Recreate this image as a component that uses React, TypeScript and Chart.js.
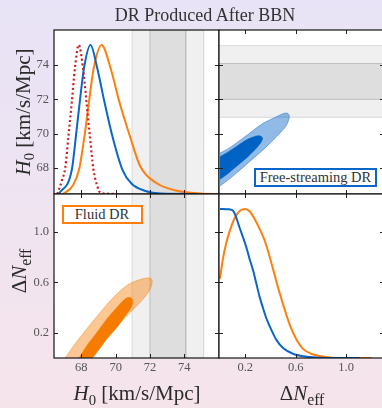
import React, { useEffect, useRef } from 'react';
import { Chart, registerables } from 'chart.js';

Chart.register(...registerables);

// ---------- axis ranges & ticks ----------
const H0_X_RANGE = [66.41, 76.02];
const H0_Y_RANGE = [66.5, 76.03];
const DNEFF_X_RANGE = [-0.008, 1.3];
const DNEFF_Y_RANGE = [0, 1.3];
const DENS_MAX = 1.1;

const H0_TICKS = [68, 70, 72, 74];
const H0_TICK_LABELS = ['68', '70', '72', '74'];
const DNEFF_TICKS = [0.2, 0.6, 1.0];
const DNEFF_TICK_LABELS = ['0.2', '0.6', '1.0'];

// SH0ES band (1 and 2 sigma)
const SH0ES_1SIG = [72.0, 74.08];
const SH0ES_2SIG = [70.96, 75.12];

// ---------- 1D H0 posteriors ----------
const LCDM_H0 = [66.6, 66.87, 67.07, 67.26, 67.45, 67.63, 67.85, 68.1, 68.3, 68.49, 68.7, 68.92, 69.13, 70.15];
const LCDM_H0_DENS = [0, 0.09, 0.181, 0.399, 0.62, 0.845, 1.0, 0.845, 0.62, 0.399, 0.171, 0.057, 0.007, 0];

const FS_H0 = [66.69, 67.45, 67.69, 67.92, 68.16, 68.54, 68.92, 69.33, 69.8, 70.39, 70.92, 71.74, 72.62, 74.67];
const FS_H0_DENS = [0, 0.164, 0.392, 0.627, 0.848, 1.0, 0.848, 0.627, 0.392, 0.164, 0.07, 0.02, 0.003, 0];

const FLUID_H0 = [66.93, 67.51, 67.87, 68.19, 68.45, 68.72, 69.18, 69.71, 70.21, 70.8, 71.44, 72.32, 73.5, 74.96, 76.08];
const FLUID_H0_DENS = [0, 0.057, 0.164, 0.392, 0.62, 0.842, 1.0, 0.842, 0.62, 0.399, 0.184, 0.077, 0.023, 0.003, 0];

// ---------- 1D ΔNeff posteriors ----------
const FS_DNEFF = [0, 0.074, 0.102, 0.128, 0.154, 0.182, 0.208, 0.234, 0.262, 0.288, 0.314, 0.342, 0.368, 0.408, 0.448, 0.502, 0.582, 0.688, 0.89, 1.11];
const FS_DNEFF_DENS = [1.0, 0.997, 0.989, 0.944, 0.877, 0.81, 0.744, 0.666, 0.588, 0.499, 0.41, 0.332, 0.265, 0.187, 0.12, 0.065, 0.027, 0.009, 0, 0];

const FLUID_DNEFF = [0, 0.021, 0.048, 0.074, 0.102, 0.128, 0.16, 0.2, 0.234, 0.274, 0.314, 0.354, 0.394, 0.434, 0.474, 0.514, 0.554, 0.608, 0.662, 0.728, 0.82, 0.95, 1.2];
const FLUID_DNEFF_DENS = [0.532, 0.655, 0.766, 0.844, 0.911, 0.955, 0.989, 1.0, 0.984, 0.933, 0.866, 0.788, 0.677, 0.554, 0.432, 0.321, 0.22, 0.12, 0.058, 0.027, 0.009, 0, 0];

// ---------- 2D contours: free-streaming (ΔNeff, H0) ----------
const FS_OUTER_DNEFF = [0, 0.048, 0.128, 0.234, 0.342, 0.448, 0.5, 0.535, 0.55, 0.528, 0.474, 0.368, 0.234, 0.128, 0.048, 0];
const FS_OUTER_H0 = [68.88, 69.06, 69.45, 70.03, 70.61, 70.99, 71.17, 71.19, 71.0, 70.51, 70.03, 69.25, 68.38, 67.7, 67.22, 66.97];
const FS_INNER_DNEFF = [0, 0.048, 0.128, 0.208, 0.288, 0.32, 0.337, 0.328, 0.288, 0.208, 0.128, 0.048, 0];
const FS_INNER_H0 = [68.67, 68.87, 69.25, 69.64, 69.87, 69.87, 69.75, 69.54, 69.16, 68.58, 68.09, 67.6, 67.35];

// ---------- 2D contours: fluid (H0, ΔNeff) ----------
const FLUID_OUTER_H0 = [67.06, 67.67, 68.35, 69.14, 69.92, 70.7, 71.38, 71.8, 72.07, 72.13, 72.07, 71.87, 71.28, 70.5, 69.72, 68.94, 68.55];
const FLUID_OUTER_DNEFF = [0, 0.117, 0.236, 0.367, 0.487, 0.579, 0.62, 0.633, 0.63, 0.606, 0.566, 0.513, 0.42, 0.315, 0.196, 0.077, 0];
const FLUID_INNER_H0 = [67.87, 68.35, 68.94, 69.52, 70.11, 70.6, 70.85, 71.0, 70.93, 70.6, 70.11, 69.52, 68.94, 68.65];
const FLUID_INNER_DNEFF = [0, 0.103, 0.209, 0.315, 0.407, 0.474, 0.479, 0.46, 0.407, 0.341, 0.248, 0.156, 0.05, 0];

// ---------- styles ----------
const W = 400;
const H = 408;
const SERIF = "'Liberation Serif', 'Times New Roman', serif";
const BLUE = '#0a66c8';
const BLUE_DARK = '#0062c2';
const BLUE_LIGHT = 'rgba(10,102,200,0.45)';
const ORANGE = '#ff7f0e';
const ORANGE_DARK = '#f57c00';
const ORANGE_LIGHT = 'rgba(245,130,20,0.45)';
const RED = '#cc2020';
const BAND_LIGHT = '#f0f0f0';
const BAND_DARK = '#dedede';
const BAND_LIGHT_EDGE = '#d8d8d8';
const BAND_DARK_EDGE = '#bdbdbd';

const pts = (xs: number[], ys: number[]) => xs.map((x, i) => ({ x, y: ys[i] }));

const panelPlugin = {
  id: 'panel',
  beforeDraw(chart: any) {
    const { ctx, chartArea: a } = chart;
    ctx.save();
    ctx.fillStyle = '#ffffff';
    ctx.fillRect(a.left, a.top, a.right - a.left, a.bottom - a.top);
    ctx.restore();
  },
  afterDraw(chart: any, _args: any, opts: any) {
    const { ctx, chartArea: a } = chart;
    const xs = chart.scales[opts.xId];
    const ys = chart.scales[opts.yId];
    const L = 4;
    ctx.save();
    ctx.strokeStyle = '#222';
    ctx.lineWidth = 1;
    ctx.beginPath();
    for (const t of xs.ticks) {
      const p = Math.round(xs.getPixelForValue(t.value)) + 0.5;
      ctx.moveTo(p, a.bottom);
      ctx.lineTo(p, a.bottom - L);
      if (opts.top) {
        ctx.moveTo(p, a.top);
        ctx.lineTo(p, a.top + L);
      }
    }
    for (const t of ys.ticks) {
      const p = Math.round(ys.getPixelForValue(t.value)) + 0.5;
      ctx.moveTo(a.left, p);
      ctx.lineTo(a.left + L, p);
      ctx.moveTo(a.right, p);
      ctx.lineTo(a.right - L, p);
    }
    ctx.stroke();
    ctx.lineWidth = 1.2;
    ctx.strokeStyle = '#151515';
    ctx.strokeRect(a.left, a.top, a.right - a.left, a.bottom - a.top);
    ctx.restore();
  },
};

function axis(
  range: number[],
  ticks: number[],
  labels: string[],
  position: string,
  show: boolean,
  size: number
) {
  const horizontal = position === 'bottom' || position === 'top';
  return {
    type: 'linear',
    position,
    min: range[0],
    max: range[1],
    grid: { display: false, drawTicks: false },
    border: { display: false },
    ticks: {
      display: show,
      padding: horizontal ? 2 : 5,
      autoSkip: false,
      maxRotation: 0,
      color: '#555',
      font: { family: SERIF, size: 12.5 },
      callback: (v: number) => {
        const i = ticks.indexOf(v);
        return i >= 0 ? labels[i] : '';
      },
    },
    afterBuildTicks: (s: any) => {
      s.ticks = ticks.map((v) => ({ value: v }));
    },
    afterFit: (s: any) => {
      if (horizontal) s.height = size;
      else s.width = size;
    },
  };
}

const hiddenAxis = (min: number, max: number) => ({ type: 'linear', display: false, min, max });

const curve = (xs: number[], ys: number[], color: string, order: number, extra: any = {}) => ({
  data: pts(xs, ys),
  borderColor: color,
  borderWidth: 2,
  pointRadius: 0,
  fill: false,
  cubicInterpolationMode: 'monotone',
  order,
  ...extra,
});

const shape = (xs: number[], ys: number[], fillColor: string, edge: string, bw: number, order: number, extra: any = {}) => ({
  data: pts(xs, ys),
  backgroundColor: fillColor,
  borderColor: edge,
  borderWidth: bw,
  pointRadius: 0,
  fill: 'shape',
  tension: 0.3,
  order,
  ...extra,
});

// vertical SH0ES band (x = H0), spanning the full y range of the given axis
const vBand = (range: number[], yTop: number, color: string, edge: string, order: number, yAxisID: string) => ({
  data: [
    { x: range[0], y: 0 },
    { x: range[0], y: yTop },
    { x: range[1], y: yTop },
    { x: range[1], y: 0 },
  ],
  backgroundColor: color,
  borderColor: edge,
  borderWidth: 1,
  pointRadius: 0,
  fill: 'start',
  order,
  yAxisID,
});

// horizontal SH0ES band (y = H0)
const hBandTop = (range: number[], xr: number[], color: string, edge: string, order: number) => ({
  data: [
    { x: xr[0] - 0.05, y: range[1] },
    { x: xr[1] + 0.05, y: range[1] },
  ],
  backgroundColor: color,
  borderColor: edge,
  borderWidth: 1,
  pointRadius: 0,
  fill: { value: range[0] },
  order,
});
const hBandEdge = (range: number[], xr: number[], edge: string, order: number) => ({
  data: [
    { x: xr[0] - 0.05, y: range[0] },
    { x: xr[1] + 0.05, y: range[0] },
  ],
  borderColor: edge,
  borderWidth: 1,
  pointRadius: 0,
  fill: false,
  order,
});

const baseOptions = (padding: any, scales: any, xId: string, yId: string, top: boolean) => ({
  responsive: false,
  animation: false,
  events: [],
  layout: { padding },
  scales,
  plugins: {
    legend: { display: false },
    tooltip: { enabled: false },
    panel: { xId, yId, top },
  },
});

// Top-left: 1D H0
const configTL = {
  type: 'line',
  data: {
    datasets: [
      curve(LCDM_H0, LCDM_H0_DENS, RED, 1, { yAxisID: 'yd', borderDash: [2, 2.6], borderWidth: 2.2 }),
      curve(FS_H0, FS_H0_DENS, BLUE, 2, { yAxisID: 'yd' }),
      curve(FLUID_H0, FLUID_H0_DENS, ORANGE, 3, { yAxisID: 'yd' }),
      vBand(SH0ES_1SIG, DENS_MAX, BAND_DARK, BAND_DARK_EDGE, 19, 'yd'),
      vBand(SH0ES_2SIG, DENS_MAX, BAND_LIGHT, BAND_LIGHT_EDGE, 20, 'yd'),
    ],
  },
  options: baseOptions(
    { left: 0, top: 30, right: W - 219, bottom: H - 194 },
    {
      x: axis(H0_X_RANGE, H0_TICKS, H0_TICK_LABELS, 'bottom', false, 0),
      y: axis(H0_Y_RANGE, H0_TICKS, H0_TICK_LABELS, 'left', true, 54),
      yd: hiddenAxis(0, DENS_MAX),
    },
    'x',
    'y',
    false
  ),
  plugins: [panelPlugin],
};

// Top-right: 2D free-streaming (ΔNeff, H0)
const configTR = {
  type: 'line',
  data: {
    datasets: [
      shape(FS_INNER_DNEFF, FS_INNER_H0, BLUE_DARK, BLUE_DARK, 0.5, 1),
      shape(FS_OUTER_DNEFF, FS_OUTER_H0, BLUE_LIGHT, 'rgba(10,102,200,0.55)', 0.8, 2),
      hBandEdge(SH0ES_1SIG, DNEFF_X_RANGE, BAND_DARK_EDGE, 17),
      hBandTop(SH0ES_1SIG, DNEFF_X_RANGE, BAND_DARK, BAND_DARK_EDGE, 18),
      hBandEdge(SH0ES_2SIG, DNEFF_X_RANGE, BAND_LIGHT_EDGE, 19),
      hBandTop(SH0ES_2SIG, DNEFF_X_RANGE, BAND_LIGHT, BAND_LIGHT_EDGE, 20),
    ],
  },
  options: baseOptions(
    { left: 219, top: 30, right: W - 384, bottom: H - 194 },
    {
      x: axis(DNEFF_X_RANGE, DNEFF_TICKS, DNEFF_TICK_LABELS, 'bottom', false, 0),
      y: axis(H0_Y_RANGE, H0_TICKS, H0_TICK_LABELS, 'left', false, 0),
    },
    'x',
    'y',
    true
  ),
  plugins: [panelPlugin],
};

// Bottom-left: 2D fluid (H0, ΔNeff)
const configBL = {
  type: 'line',
  data: {
    datasets: [
      shape(FLUID_INNER_H0, FLUID_INNER_DNEFF, ORANGE_DARK, ORANGE_DARK, 0.5, 1),
      shape(FLUID_OUTER_H0, FLUID_OUTER_DNEFF, ORANGE_LIGHT, 'rgba(245,130,20,0.6)', 0.8, 2),
      vBand(SH0ES_1SIG, DNEFF_Y_RANGE[1], BAND_DARK, BAND_DARK_EDGE, 19, 'y'),
      vBand(SH0ES_2SIG, DNEFF_Y_RANGE[1], BAND_LIGHT, BAND_LIGHT_EDGE, 20, 'y'),
    ],
  },
  options: baseOptions(
    { left: 0, top: 194, right: W - 219, bottom: 0 },
    {
      x: axis(H0_X_RANGE, H0_TICKS, H0_TICK_LABELS, 'bottom', true, H - 358),
      y: axis(DNEFF_Y_RANGE, DNEFF_TICKS, DNEFF_TICK_LABELS, 'left', true, 54),
    },
    'x',
    'y',
    true
  ),
  plugins: [panelPlugin],
};

// Bottom-right: 1D ΔNeff
const configBR = {
  type: 'line',
  data: {
    datasets: [
      curve(FS_DNEFF, FS_DNEFF_DENS, BLUE, 1, { yAxisID: 'yd' }),
      curve(FLUID_DNEFF, FLUID_DNEFF_DENS, ORANGE, 2, { yAxisID: 'yd' }),
    ],
  },
  options: baseOptions(
    { left: 219, top: 194, right: W - 384, bottom: 0 },
    {
      x: axis(DNEFF_X_RANGE, DNEFF_TICKS, DNEFF_TICK_LABELS, 'bottom', true, H - 358),
      y: axis(DNEFF_Y_RANGE, DNEFF_TICKS, DNEFF_TICK_LABELS, 'left', false, 0),
      yd: hiddenAxis(0, DENS_MAX),
    },
    'x',
    'y',
    true
  ),
  plugins: [panelPlugin],
};

function ChartCanvas({ config }: { config: any }) {
  const ref = useRef<HTMLCanvasElement>(null);
  useEffect(() => {
    const chart = new Chart(ref.current as HTMLCanvasElement, config);
    return () => chart.destroy();
  }, []);
  return (
    <canvas
      ref={ref}
      width={W}
      height={H}
      style={{ position: 'absolute', left: 0, top: 0, width: W, height: H }}
    />
  );
}

const subStyle: React.CSSProperties = { fontSize: '0.7em', verticalAlign: '-0.32em', lineHeight: 0 };

const H0Label = () => (
  <span>
    <i>H</i>
    <span style={subStyle}>0</span> [km/s/Mpc]
  </span>
);
const DNeffLabel = () => (
  <span>
    Δ<i>N</i>
    <span style={{ ...subStyle, fontSize: '0.75em' }}>eff</span>
  </span>
);

const axisTitle: React.CSSProperties = {
  position: 'absolute',
  fontFamily: SERIF,
  fontSize: 21,
  lineHeight: '21px',
  color: '#2b2b2b',
  whiteSpace: 'nowrap',
};

export default function App() {
  return (
    <div
      style={{
        position: 'fixed',
        left: 0,
        top: 0,
        width: 382,
        height: 408,
        overflow: 'hidden',
        background: 'linear-gradient(to bottom, #e8e3f6 0%, #efe4f1 50%, #f6e4eb 100%)',
      }}
    >
      <ChartCanvas config={configTL} />
      <ChartCanvas config={configTR} />
      <ChartCanvas config={configBL} />
      <ChartCanvas config={configBR} />

      <div
        style={{
          position: 'absolute',
          left: 55,
          top: 6,
          width: 300,
          textAlign: 'center',
          fontFamily: SERIF,
          fontSize: 18,
          lineHeight: '18px',
          color: '#333',
          whiteSpace: 'nowrap',
        }}
      >
        DR Produced After BBN
      </div>

      <div style={{ ...axisTitle, left: 23, top: 112, transform: 'translate(-50%,-50%) rotate(-90deg)' }}>
        <H0Label />
      </div>
      <div style={{ ...axisTitle, left: 19, top: 271, transform: 'translate(-50%,-50%) rotate(-90deg)' }}>
        <DNeffLabel />
      </div>
      <div style={{ ...axisTitle, left: 137, top: 383, transform: 'translateX(-50%)' }}>
        <H0Label />
      </div>
      <div style={{ ...axisTitle, left: 302, top: 383, transform: 'translateX(-50%)' }}>
        <DNeffLabel />
      </div>

      <div
        style={{
          position: 'absolute',
          left: 254,
          top: 168,
          width: 123,
          height: 19,
          boxSizing: 'border-box',
          border: `2.5px solid ${BLUE}`,
          background: '#fff',
          fontFamily: SERIF,
          fontSize: 14.5,
          color: '#333',
          display: 'flex',
          alignItems: 'center',
          justifyContent: 'center',
          whiteSpace: 'nowrap',
        }}
      >
        Free-streaming DR
      </div>
      <div
        style={{
          position: 'absolute',
          left: 61.5,
          top: 205,
          width: 81,
          height: 19,
          boxSizing: 'border-box',
          border: `2.5px solid ${ORANGE}`,
          background: '#fff',
          fontFamily: SERIF,
          fontSize: 14.5,
          color: '#333',
          display: 'flex',
          alignItems: 'center',
          justifyContent: 'center',
          whiteSpace: 'nowrap',
        }}
      >
        Fluid DR
      </div>
    </div>
  );
}
